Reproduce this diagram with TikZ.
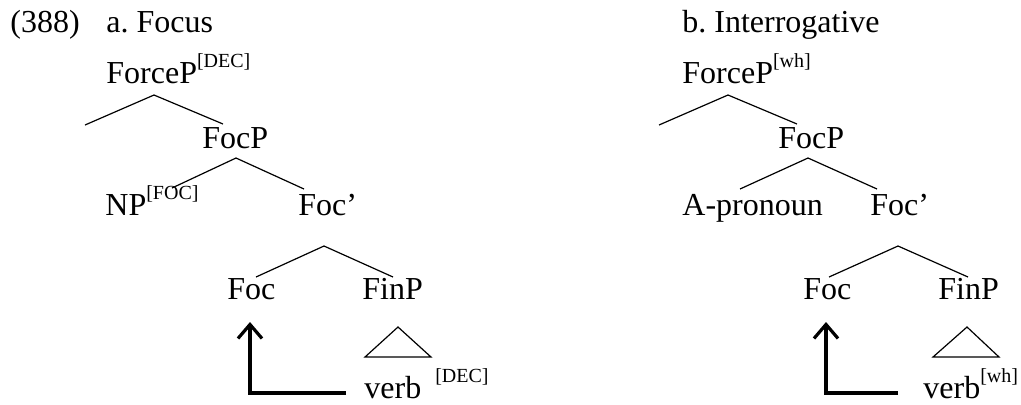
\documentclass[tikz,border=0pt]{standalone}
\usepackage{fontspec}
\setmainfont{Liberation Serif}
\usetikzlibrary{arrows.meta}

% bracketed feature on a label
\newcommand{\feat}[1]{\raisebox{8pt}{\fontsize{10}{12}\selectfont[#1]}}

\begin{document}
\frenchspacing
\begin{tikzpicture}[x=0.5pt,y=-0.5pt,font=\fontsize{16}{19}\selectfont,
	lbl/.style={inner sep=0pt,anchor=base west},
	branch/.style={line width=0.6pt},
	roof/.style={line width=0.6pt,line join=miter},
	movearrow/.style={line width=1.6pt,-{Straight Barb[length=7pt,width=12pt]}}]
	\useasboundingbox (0,0) rectangle (1021,404);

	\node[lbl] (num) at (10,32) {(388)};

	% a. focus
	\node[lbl] (titleA)  at (106,32)  {a. Focus};
	\node[lbl] (forceA)  at (106,83)  {ForceP\feat{DEC}};
	\node[lbl] (focpA)   at (202,148) {FocP};
	\node[lbl] (npA)     at (105,215) {NP\feat{FOC}};
	\node[lbl] (focbarA) at (298,215) {Foc’};
	\node[lbl] (focA)    at (227,299) {Foc};
	\node[lbl] (finpA)   at (362,299) {FinP};
	\node[lbl] (verbA)   at (364,398) {verb\hspace{7pt}\feat{DEC}};

	\coordinate (forceA-t) at (154,95);  \coordinate (forceA-l) at (85,125);  \coordinate (forceA-r) at (223,124);
	\coordinate (focpA-t)  at (236,158); \coordinate (focpA-l)  at (172,188); \coordinate (focpA-r)  at (304,189);
	\coordinate (focbarA-t) at (324,246); \coordinate (focbarA-l) at (256,277); \coordinate (focbarA-r) at (393,277);
	\coordinate (finpA-t) at (398,327);
	\coordinate (traceA) at (346,393);
	\coordinate (landA)  at (250,322);

	\draw[branch] (forceA-l) -- (forceA-t) -- (forceA-r);
	\draw[branch] (focpA-l) -- (focpA-t) -- (focpA-r);
	\draw[branch] (focbarA-l) -- (focbarA-t) -- (focbarA-r);
	\draw[roof] (finpA-t) -- ++(-33,30) -- ++(66,0) -- cycle;
	\draw[movearrow] (traceA) -| (landA);

	% b. interrogative
	\node[lbl] (titleB)  at (682,32)  {b. Interrogative};
	\node[lbl] (forceB)  at (682,83)  {ForceP\feat{wh}};
	\node[lbl] (focpB)   at (778,148) {FocP};
	\node[lbl] (pronB)   at (682,215) {A-pronoun};
	\node[lbl] (focbarB) at (870,215) {Foc’};
	\node[lbl] (focB)    at (803,299) {Foc};
	\node[lbl] (finpB)   at (938,299) {FinP};
	\node[lbl] (verbB)   at (923,398) {verb\feat{wh}};

	\coordinate (forceB-t) at (728,95);  \coordinate (forceB-l) at (659,125); \coordinate (forceB-r) at (797,124);
	\coordinate (focpB-t)  at (808,158); \coordinate (focpB-l)  at (740,189); \coordinate (focpB-r)  at (877,189);
	\coordinate (focbarB-t) at (898,246); \coordinate (focbarB-l) at (829,277); \coordinate (focbarB-r) at (968,277);
	\coordinate (finpB-t) at (967,327);
	\coordinate (traceB) at (898,393);
	\coordinate (landB)  at (826,322);

	\draw[branch] (forceB-l) -- (forceB-t) -- (forceB-r);
	\draw[branch] (focpB-l) -- (focpB-t) -- (focpB-r);
	\draw[branch] (focbarB-l) -- (focbarB-t) -- (focbarB-r);
	\draw[roof] (finpB-t) -- ++(-34,30) -- ++(66,0) -- cycle;
	\draw[movearrow] (traceB) -| (landB);
\end{tikzpicture}
\end{document}
